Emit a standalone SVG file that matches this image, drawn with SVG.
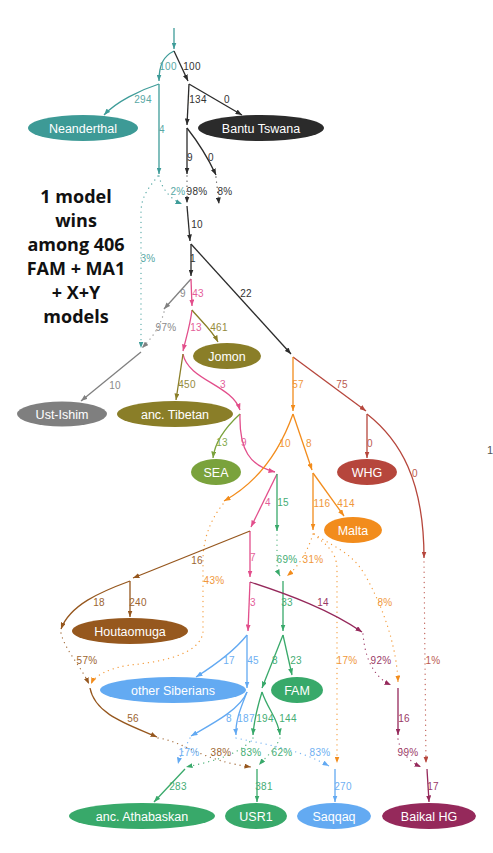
<svg xmlns="http://www.w3.org/2000/svg" width="493" height="853" viewBox="0 0 493 853">
<style>
.e{fill:none;stroke-width:1.3}
.d{fill:none;stroke-width:1.3;stroke-dasharray:0.1 5;stroke-linecap:round;stroke-opacity:0.85}
.teal{stroke:#3e9c99;marker-end:url(#m-teal)}
.black{stroke:#2b2b2b;marker-end:url(#m-black)}
.gray{stroke:#808080;marker-end:url(#m-gray)}
.pink{stroke:#e24e8b;marker-end:url(#m-pink)}
.olive{stroke:#8a7e27;marker-end:url(#m-olive)}
.sea{stroke:#7aa23c;marker-end:url(#m-sea)}
.red{stroke:#b6463c;marker-end:url(#m-red)}
.orange{stroke:#f28c1c;marker-end:url(#m-orange)}
.brown{stroke:#96571e;marker-end:url(#m-brown)}
.green{stroke:#38a96a;marker-end:url(#m-green)}
.lblue{stroke:#62a9f2;marker-end:url(#m-lblue)}
.maroon{stroke:#95295b;marker-end:url(#m-maroon)}
.l{font-family:"Liberation Sans",Arial,sans-serif;font-size:10px;text-anchor:middle;letter-spacing:0.3px}
.tteal{fill:#58a8a5}.tblack{fill:#333}.tgray{fill:#8a8a8a}.tpink{fill:#e4609a}.tolive{fill:#958a3c}.tsea{fill:#84aa4c}.tred{fill:#bb5a50}.torange{fill:#f0973a}.tbrown{fill:#9c6430}.tgreen{fill:#45ad74}.tlblue{fill:#6eaff2}.tmaroon{fill:#9a3866}
.n{font-family:"Liberation Sans",Arial,sans-serif;font-size:12.5px;fill:#fff;text-anchor:middle}
.big{font-family:"Open Sans",sans-serif;font-weight:bold;font-size:18px;fill:#111;text-anchor:middle}
</style>
<defs>
<marker id="m-teal" markerUnits="userSpaceOnUse" markerWidth="7" markerHeight="5" refX="6.5" refY="2.5" orient="auto"><path d="M0,0 L6.5,2.5 L0,5 Z" fill="#3e9c99"/></marker>
<marker id="m-black" markerUnits="userSpaceOnUse" markerWidth="7" markerHeight="5" refX="6.5" refY="2.5" orient="auto"><path d="M0,0 L6.5,2.5 L0,5 Z" fill="#2b2b2b"/></marker>
<marker id="m-gray" markerUnits="userSpaceOnUse" markerWidth="7" markerHeight="5" refX="6.5" refY="2.5" orient="auto"><path d="M0,0 L6.5,2.5 L0,5 Z" fill="#808080"/></marker>
<marker id="m-pink" markerUnits="userSpaceOnUse" markerWidth="7" markerHeight="5" refX="6.5" refY="2.5" orient="auto"><path d="M0,0 L6.5,2.5 L0,5 Z" fill="#e24e8b"/></marker>
<marker id="m-olive" markerUnits="userSpaceOnUse" markerWidth="7" markerHeight="5" refX="6.5" refY="2.5" orient="auto"><path d="M0,0 L6.5,2.5 L0,5 Z" fill="#8a7e27"/></marker>
<marker id="m-sea" markerUnits="userSpaceOnUse" markerWidth="7" markerHeight="5" refX="6.5" refY="2.5" orient="auto"><path d="M0,0 L6.5,2.5 L0,5 Z" fill="#7aa23c"/></marker>
<marker id="m-red" markerUnits="userSpaceOnUse" markerWidth="7" markerHeight="5" refX="6.5" refY="2.5" orient="auto"><path d="M0,0 L6.5,2.5 L0,5 Z" fill="#b6463c"/></marker>
<marker id="m-orange" markerUnits="userSpaceOnUse" markerWidth="7" markerHeight="5" refX="6.5" refY="2.5" orient="auto"><path d="M0,0 L6.5,2.5 L0,5 Z" fill="#f28c1c"/></marker>
<marker id="m-brown" markerUnits="userSpaceOnUse" markerWidth="7" markerHeight="5" refX="6.5" refY="2.5" orient="auto"><path d="M0,0 L6.5,2.5 L0,5 Z" fill="#96571e"/></marker>
<marker id="m-green" markerUnits="userSpaceOnUse" markerWidth="7" markerHeight="5" refX="6.5" refY="2.5" orient="auto"><path d="M0,0 L6.5,2.5 L0,5 Z" fill="#38a96a"/></marker>
<marker id="m-lblue" markerUnits="userSpaceOnUse" markerWidth="7" markerHeight="5" refX="6.5" refY="2.5" orient="auto"><path d="M0,0 L6.5,2.5 L0,5 Z" fill="#62a9f2"/></marker>
<marker id="m-maroon" markerUnits="userSpaceOnUse" markerWidth="7" markerHeight="5" refX="6.5" refY="2.5" orient="auto"><path d="M0,0 L6.5,2.5 L0,5 Z" fill="#95295b"/></marker>
</defs>
<rect width="493" height="853" fill="#fff"/>
<g id="caption">
<text class="big" x="76" y="203">1 model</text>
<text class="big" x="76" y="227">wins</text>
<text class="big" x="76" y="251">among 406</text>
<text class="big" x="76" y="275">FAM + MA1</text>
<text class="big" x="76" y="299">+ X+Y</text>
<text class="big" x="76" y="323">models</text>
</g>
<g id="connectors">
<path class="e teal" d="M174,28 L174,49"/>
<path class="e teal" d="M174,51 C164,56 159,64 159,81"/>
<path class="e teal" d="M159,84 C140,90 116,102 104,115"/>
<path class="e teal" d="M159,84 L159,174"/>
<path class="d teal" d="M159,176 C162,190 172,200 182,204"/>
<path class="d teal" d="M158,176 C150,186 141,196 141,212 L141,348"/>
<path class="e black" d="M174,51 L188,81"/>
<path class="e black" d="M189,84 L242,115"/>
<path class="e black" d="M189,84 L187,125"/>
<path class="e black" d="M187,128 L187,174"/>
<path class="e black" d="M187,128 C198,142 209,160 216,175"/>
<path class="d black" d="M187,176 L187,203"/>
<path class="d black" d="M216,177 L219,204"/>
<path class="e black" d="M187,206 L190,241"/>
<path class="e black" d="M191,244 L191,276"/>
<path class="e black" d="M191,244 L291,354"/>
<path class="e gray" d="M191,279 L164,309"/>
<path class="d gray" d="M164,312 C160,328 150,340 142,348"/>
<path class="e gray" d="M141,352 L81,401"/>
<path class="e pink" d="M191,279 L192,306"/>
<path class="e pink" d="M192,310 C190,326 186,338 183,351"/>
<path class="e pink" d="M183,354 C188,380 232,385 240,410"/>
<path class="e pink" d="M240,414 C239,450 250,466 275,472"/>
<path class="e pink" d="M277,474 L251,527"/>
<path class="e pink" d="M250,531 L250,577"/>
<path class="e pink" d="M250,582 L248,631"/>
<path class="e olive" d="M192,310 C200,320 212,330 218,342"/>
<path class="e olive" d="M183,354 L176,400"/>
<path class="e sea" d="M240,414 C228,425 215,440 213,458"/>
<path class="e red" d="M293,357 L366,411"/>
<path class="e red" d="M367,414 L367,458"/>
<path class="e red" d="M367,414 C400,440 424,480 424,558"/>
<path class="d red" d="M424,562 L426,763"/>
<path class="e orange" d="M293,357 L293,411"/>
<path class="e orange" d="M293,414 C282,445 262,480 224,501"/>
<path class="e orange" d="M293,414 L312,470"/>
<path class="e orange" d="M313,473 L313,530"/>
<path class="e orange" d="M313,473 L344,516"/>
<path class="d orange" d="M223,504 C210,520 203,540 203,560 L203,632 C200,655 160,662 130,665 C110,668 95,675 91,684"/>
<path class="d orange" d="M313,534 C308,550 300,565 287,576"/>
<path class="d orange" d="M314,534 C325,545 337,550 337,570 L337,763"/>
<path class="d orange" d="M314,534 C332,546 352,552 365,575 C385,610 397,650 398,682"/>
<path class="e brown" d="M250,531 L133,578"/>
<path class="e brown" d="M130,581 L130,617"/>
<path class="e brown" d="M130,581 C100,592 70,605 61,629"/>
<path class="d brown" d="M61,633 C65,650 80,665 89,684"/>
<path class="e brown" d="M90,688 C95,715 130,725 157,737"/>
<path class="d brown" d="M158,738 C185,742 200,760 251,767"/>
<path class="e green" d="M277,474 L277,531"/>
<path class="d green" d="M277,535 L277,565 Q278,572 280,576"/>
<path class="e green" d="M283,581 L283,631"/>
<path class="e green" d="M283,635 L292,675"/>
<path class="e green" d="M283,635 L262,688"/>
<path class="e green" d="M262,692 C258,705 254,720 253,735"/>
<path class="e green" d="M262,692 C268,710 278,718 280,735"/>
<path class="d green" d="M253,738 C240,755 210,762 186,767"/>
<path class="d green" d="M280,738 C275,750 265,758 259,765"/>
<path class="e green" d="M185,769 L154,802"/>
<path class="e green" d="M257,769 L257,802"/>
<path class="e lblue" d="M247,635 C235,650 215,665 196,677"/>
<path class="e lblue" d="M247,635 L247,688"/>
<path class="e lblue" d="M247,692 C240,710 210,725 191,736"/>
<path class="e lblue" d="M247,692 C242,705 235,720 236,735"/>
<path class="d lblue" d="M190,738 C185,748 180,755 178,764"/>
<path class="d lblue" d="M236,738 C270,745 300,750 329,766"/>
<path class="e lblue" d="M335,769 L335,802"/>
<path class="e maroon" d="M250,582 C290,595 330,610 362,632"/>
<path class="d maroon" d="M363,634 C365,660 375,678 391,685"/>
<path class="e maroon" d="M398,688 L398,735"/>
<path class="d maroon" d="M398,739 C400,752 410,762 421,767"/>
<path class="e maroon" d="M427,769 L429,802"/>
<g id="edge-labels">
<text class="l tteal" x="168" y="70">100</text>
<text class="l tteal" x="143" y="103">294</text>
<text class="l tteal" x="162" y="133">4</text>
<text class="l tteal" x="178" y="195">2%</text>
<text class="l tteal" x="148" y="262">3%</text>
<text class="l tblack" x="192" y="70">100</text>
<text class="l tblack" x="227" y="103">0</text>
<text class="l tblack" x="198" y="103">134</text>
<text class="l tblack" x="190" y="161">9</text>
<text class="l tblack" x="211" y="161">0</text>
<text class="l tblack" x="197" y="195">98%</text>
<text class="l tblack" x="225" y="195">8%</text>
<text class="l tblack" x="197" y="228">10</text>
<text class="l tblack" x="193" y="262">1</text>
<text class="l tblack" x="246" y="297">22</text>
<text class="l tgray" x="183" y="297">9</text>
<text class="l tgray" x="166" y="331">97%</text>
<text class="l tgray" x="115" y="389">10</text>
<text class="l tpink" x="198" y="297">43</text>
<text class="l tpink" x="196" y="331">13</text>
<text class="l tpink" x="223" y="388">3</text>
<text class="l tpink" x="244" y="446">9</text>
<text class="l tpink" x="268" y="506">4</text>
<text class="l tpink" x="253" y="561">7</text>
<text class="l tpink" x="253" y="606">3</text>
<text class="l tolive" x="219" y="331">461</text>
<text class="l tolive" x="187" y="388">450</text>
<text class="l tsea" x="222" y="446">13</text>
<text class="l tred" x="342" y="388">75</text>
<text class="l tred" x="370" y="447">0</text>
<text class="l tred" x="415" y="477">0</text>
<text class="l tred" x="433" y="664">1%</text>
<text class="l torange" x="298" y="388">57</text>
<text class="l torange" x="285" y="447">10</text>
<text class="l torange" x="309" y="447">8</text>
<text class="l torange" x="322" y="507">116</text>
<text class="l torange" x="346" y="507">414</text>
<text class="l torange" x="214" y="584">43%</text>
<text class="l torange" x="313" y="563">31%</text>
<text class="l torange" x="347" y="664">17%</text>
<text class="l torange" x="385" y="606">8%</text>
<text class="l tbrown" x="197" y="564">16</text>
<text class="l tbrown" x="138" y="606">240</text>
<text class="l tbrown" x="99" y="606">18</text>
<text class="l tbrown" x="87" y="664">57%</text>
<text class="l tbrown" x="133" y="722">56</text>
<text class="l tbrown" x="221" y="756">38%</text>
<text class="l tgreen" x="283" y="506">15</text>
<text class="l tgreen" x="287" y="563">69%</text>
<text class="l tgreen" x="287" y="606">33</text>
<text class="l tgreen" x="296" y="664">23</text>
<text class="l tgreen" x="275" y="664">8</text>
<text class="l tgreen" x="265" y="722">194</text>
<text class="l tgreen" x="288" y="722">144</text>
<text class="l tgreen" x="251" y="756">83%</text>
<text class="l tgreen" x="282" y="756">62%</text>
<text class="l tgreen" x="178" y="790">283</text>
<text class="l tgreen" x="264" y="790">381</text>
<text class="l tlblue" x="229" y="664">17</text>
<text class="l tlblue" x="253" y="664">45</text>
<text class="l tlblue" x="229" y="722">8</text>
<text class="l tlblue" x="246" y="722">187</text>
<text class="l tlblue" x="189" y="756">17%</text>
<text class="l tlblue" x="320" y="756">83%</text>
<text class="l tlblue" x="343" y="790">270</text>
<text class="l tmaroon" x="323" y="606">14</text>
<text class="l tmaroon" x="381" y="664">92%</text>
<text class="l tmaroon" x="404" y="722">16</text>
<text class="l tmaroon" x="408" y="756">99%</text>
<text class="l tmaroon" x="433" y="790">17</text>
</g>
</g>
<g id="n-neanderthal"><ellipse cx="83" cy="128" rx="55" ry="13" fill="#3d9a96"/><text class="n" x="83" y="132.5">Neanderthal</text></g>
<g id="n-bantu"><ellipse cx="261" cy="128" rx="63" ry="13" fill="#2b2b2b"/><text class="n" x="261" y="132.5">Bantu Tswana</text></g>
<g id="n-ustishim"><ellipse cx="62" cy="414" rx="45" ry="12.5" fill="#7f7f7f"/><text class="n" x="62" y="418.5">Ust-Ishim</text></g>
<g id="n-tibetan"><ellipse cx="175" cy="414" rx="58" ry="13" fill="#8a7e28"/><text class="n" x="175" y="418.5">anc. Tibetan</text></g>
<g id="n-jomon"><ellipse cx="227" cy="356" rx="34" ry="13" fill="#8a7e28"/><text class="n" x="227" y="360.5">Jomon</text></g>
<g id="n-sea"><ellipse cx="216" cy="472" rx="25" ry="13" fill="#7aa23c"/><text class="n" x="216" y="476.5">SEA</text></g>
<g id="n-whg"><ellipse cx="367" cy="472" rx="30" ry="13" fill="#b6463c"/><text class="n" x="367" y="476.5">WHG</text></g>
<g id="n-malta"><ellipse cx="353" cy="530" rx="29" ry="13" fill="#f28c1c"/><text class="n" x="353" y="534.5">Malta</text></g>
<g id="n-houtaomuga"><ellipse cx="130" cy="631" rx="58" ry="13" fill="#96581e"/><text class="n" x="130" y="635.5">Houtaomuga</text></g>
<g id="n-othersib"><ellipse cx="173" cy="690" rx="73" ry="13" fill="#63aaf2"/><text class="n" x="173" y="694.5">other Siberians</text></g>
<g id="n-fam"><ellipse cx="297" cy="690" rx="26" ry="13" fill="#38a96a"/><text class="n" x="297" y="694.5">FAM</text></g>
<g id="n-athabaskan"><ellipse cx="142" cy="816" rx="73" ry="13" fill="#38a96a"/><text class="n" x="142" y="820.5">anc. Athabaskan</text></g>
<g id="n-usr1"><ellipse cx="256" cy="816" rx="31" ry="13" fill="#38a96a"/><text class="n" x="256" y="820.5">USR1</text></g>
<g id="n-saqqaq"><ellipse cx="334" cy="816" rx="37" ry="13" fill="#63aaf2"/><text class="n" x="334" y="820.5">Saqqaq</text></g>
<g id="n-baikal"><ellipse cx="429" cy="816" rx="47" ry="13" fill="#95295b"/><text class="n" x="429" y="820.5">Baikal HG</text></g>
<text x="487" y="454" font-family="Liberation Sans, Arial, sans-serif" font-size="11" fill="#555">1</text>
</svg>
